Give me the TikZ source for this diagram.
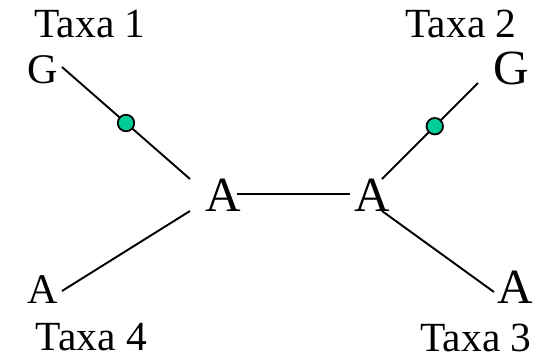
\documentclass[tikz,border=0pt]{standalone}
\usepackage{fontspec}
\setmainfont{Liberation Serif}
\usepackage{tikz}
\usetikzlibrary{positioning,calc}
\definecolor{snpgreen}{RGB}{0,204,153}

\begin{document}
\begin{tikzpicture}[
  taxon/.style={inner sep=0pt, outer sep=0pt, font=\fontsize{11.8}{13}\selectfont},
  leaf/.style={inner sep=0pt, outer sep=0pt, font=\fontsize{12}{14}\selectfont},
  bigleaf/.style={inner sep=0pt, outer sep=0pt, font=\fontsize{14}{16}\selectfont},
  anc/.style={inner sep=0pt, outer sep=0pt, font=\fontsize{14}{16}\selectfont},
  edge/.style={line width=0.55pt},
  change/.style={circle, draw, line width=0.5pt, fill=snpgreen,
    minimum size=0.165cm, inner sep=0pt}
]
  \useasboundingbox (0,0) rectangle (5.5,3.6);

  % --- Taxon names ---
  \node[taxon] (taxa1) at (0.90,3.36)  {Taxa 1};
  \node[taxon] (taxa2) at (4.61,3.365) {Taxa 2};
  \node[taxon] (taxa4) at (0.915,0.225) {Taxa 4};
  \node[taxon] (taxa3) at (4.76,0.225) {Taxa 3};

  % --- Leaf states ---
  \node[leaf]    (g1) at (0.425,2.90) {G};
  \node[bigleaf] (g2) at (5.115,2.92) {G};
  \node[leaf]    (a4) at (0.43,0.70)  {A};
  \node[bigleaf] (a3) at (5.15,0.73)  {A};

  % --- Inner (ancestral) states ---
  \node[anc] (al) at (2.235,1.65) {A};
  \node[anc] (ar) at (3.725,1.65) {A};

  % --- Branches (dots mark the G/A changes) ---
  \draw[edge] ([shift={(0.195,0.03)}]g1.center)
    -- node[change, pos=0.5] (chg1) {} ([shift={(-0.335,0.16)}]al.center);
  \draw[edge] ([shift={(-0.335,-0.15)}]g2.center)
    -- node[change, pos=0.45] (chg2) {} ([shift={(0.095,0.16)}]ar.center);
  \draw[edge] ([shift={(0.135,0.01)}]al.center) -- ([shift={(-0.225,0.01)}]ar.center);
  \draw[edge] ([shift={(-0.335,-0.16)}]al.center) -- ([shift={(0.19,-0.01)}]a4.center);
  \draw[edge] ([shift={(0.095,-0.16)}]ar.center) -- ([shift={(-0.21,-0.05)}]a3.center);
\end{tikzpicture}
\end{document}
